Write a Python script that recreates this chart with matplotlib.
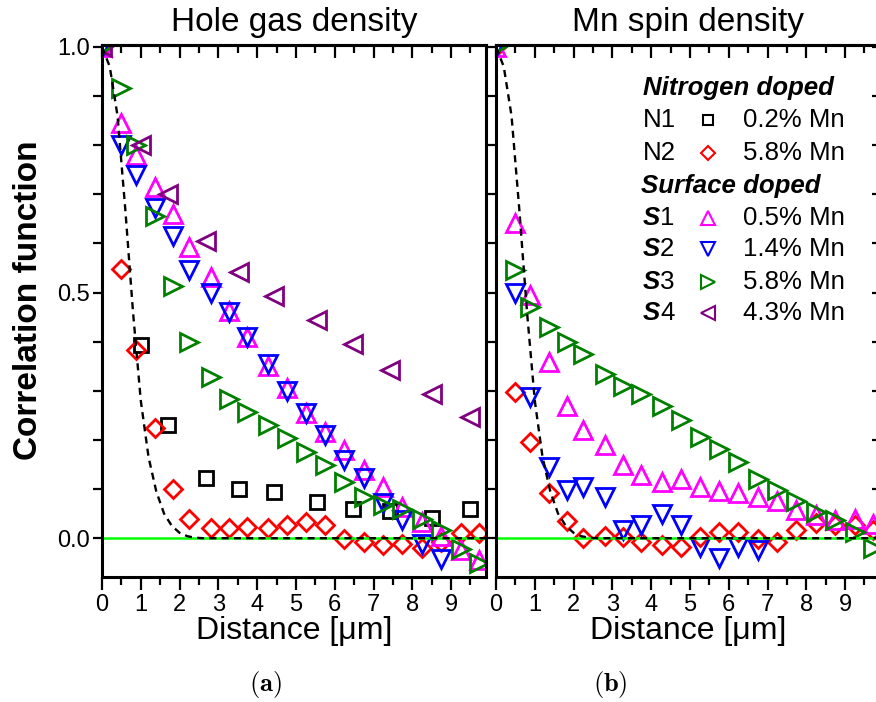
import matplotlib
matplotlib.use("Agg")
import matplotlib.pyplot as plt
from matplotlib.ticker import MultipleLocator, FormatStrFormatter

plt.rcParams['font.family'] = ['Liberation Sans', 'DejaVu Sans']

# distances [um] shared by the finely sampled series
dist_fine = [0.0, 0.5, 0.87, 1.36, 1.82, 2.25, 2.81, 3.27, 3.74, 4.27, 4.76,
             5.26, 5.74, 6.23, 6.76, 7.24, 7.74, 8.25, 8.75, 9.25, 9.73]
# distances for the coarsely sampled series (N1, S4)
dist_coarse = [0.0, 1.0, 1.7, 2.67, 3.54, 4.44, 5.55, 6.46, 7.42, 8.51, 9.5]

# (a) hole gas density
hole_N1 = [1.0, 0.394, 0.23, 0.123, 0.10, 0.094, 0.074, 0.06, 0.055, 0.042, 0.06]
hole_N2 = [1.0, 0.549, 0.384, 0.225, 0.101, 0.039, 0.02, 0.02, 0.023, 0.02, 0.026,
           0.033, 0.026, -0.001, -0.007, -0.014, -0.012, -0.02, -0.007, 0.01, 0.01]
hole_S1 = [1.0, 0.845, 0.78, 0.715, 0.66, 0.592, 0.531, 0.463, 0.41, 0.35, 0.305,
           0.254, 0.216, 0.179, 0.138, 0.105, 0.064, 0.032, 0.005, -0.025, -0.045]
hole_S2 = [1.0, 0.80, 0.74, 0.673, 0.616, 0.545, 0.50, 0.46, 0.41, 0.355, 0.30,
           0.254, 0.21, 0.159, 0.122, 0.072, 0.037, -0.012, -0.043]
hole_S3 = [1.0, 0.917, 0.80, 0.656, 0.514, 0.40, 0.328, 0.284, 0.257, 0.23, 0.203,
           0.175, 0.15, 0.115, 0.084, 0.068, 0.06, 0.04, 0.016, -0.021, -0.05]
hole_S4 = [1.0, 0.80, 0.70, 0.605, 0.541, 0.494, 0.444, 0.396, 0.343, 0.294, 0.247]

# (b) Mn spin density
spin_N2 = [1.0, 0.298, 0.196, 0.093, 0.036, 0.0, 0.004, 0.003, -0.007, -0.014, -0.018,
           0.003, 0.013, 0.013, -0.001, -0.007, 0.016, 0.03, 0.026, 0.026, 0.016]
spin_S1 = [1.0, 0.641, 0.496, 0.358, 0.27, 0.22, 0.189, 0.148, 0.128, 0.114, 0.12,
           0.104, 0.096, 0.092, 0.083, 0.076, 0.057, 0.048, 0.038, 0.04, 0.028]
spin_S2 = [1.0, 0.50, 0.287, 0.144, 0.099, 0.104, 0.084, 0.016, 0.026, 0.05, 0.026,
           -0.018, -0.04, -0.018, -0.025]
spin_S3 = [1.0, 0.546, 0.47, 0.43, 0.40, 0.375, 0.335, 0.309, 0.294, 0.27, 0.24,
           0.206, 0.182, 0.155, 0.121, 0.098, 0.076, 0.054, 0.037, 0.013, -0.02]

# resolution curve (dashed)
psf_x = [0.0, 0.2, 0.4, 0.6, 0.8, 1.0, 1.2, 1.4, 1.6, 1.8, 2.0, 2.2, 2.4, 2.6, 9.95]
psf_y = [1.0, 0.96, 0.86, 0.67, 0.46, 0.28, 0.165, 0.095, 0.05, 0.025, 0.011, 0.004,
         0.001, 0.0, 0.0]

legend_names = ['N1', 'N2', 'S1', 'S2', 'S3', 'S4']
legend_mn = ['0.2% Mn', '5.8% Mn', '0.5% Mn', '1.4% Mn', '5.8% Mn', '4.3% Mn']

styles = {
    'N1': dict(marker='s', color='black', ms=9.5),
    'N2': dict(marker='D', color='#ff0000', ms=9.5),
    'S1': dict(marker='^', color='#ff00ff', ms=13.5),
    'S2': dict(marker='v', color='#0000ff', ms=13.5),
    'S3': dict(marker='>', color='#008000', ms=13.5),
    'S4': dict(marker='<', color='#800080', ms=13.5),
}

W, H = 876, 702
fig = plt.figure(figsize=(W / 100, H / 100), dpi=100)
axL = fig.add_axes([102 / W, 1 - 577 / H, 384 / W, 532 / H])
axR = fig.add_axes([496 / W, 1 - 577 / H, 384 / W, 532 / H])


def pts(ax, x, y, key):
    st = styles[key]
    ax.plot(x[:len(y)], y, linestyle='none', marker=st['marker'], ms=st['ms'],
            mfc='none', mec=st['color'], mew=2.0)


pts(axL, dist_coarse, hole_N1, 'N1')
pts(axL, dist_fine, hole_N2, 'N2')
pts(axL, dist_fine, hole_S1, 'S1')
pts(axL, dist_fine, hole_S2, 'S2')
pts(axL, dist_fine, hole_S3, 'S3')
pts(axL, dist_coarse, hole_S4, 'S4')

pts(axR, dist_fine, spin_N2, 'N2')
pts(axR, dist_fine, spin_S1, 'S1')
pts(axR, dist_fine, spin_S2, 'S2')
pts(axR, dist_fine, spin_S3, 'S3')

for ax in (axL, axR):
    ax.axhline(0, color='#00ff00', lw=1.8)
    ax.plot(psf_x, psf_y, color='black', lw=1.7, dashes=(3, 2.2))
    ax.set_xlim(0, 9.9)
    ax.set_ylim(-0.079, 1.004)
    for s in ax.spines.values():
        s.set_linewidth(2.2)
    ax.xaxis.set_major_locator(MultipleLocator(1))
    ax.xaxis.set_minor_locator(MultipleLocator(0.5))
    ax.yaxis.set_major_locator(MultipleLocator(0.5))
    ax.yaxis.set_minor_locator(MultipleLocator(0.1))
    ax.yaxis.set_major_formatter(FormatStrFormatter('%.1f'))
    ax.tick_params(which='both', direction='out', width=1.6, labelsize=17,
                   top=False, right=False)
    ax.tick_params(axis='x', which='major', length=9.5, pad=3)
    ax.tick_params(axis='x', which='minor', length=5.5)
    ax.tick_params(axis='y', which='both', length=6.5, pad=2)
    top = ax.secondary_xaxis('top')
    top.xaxis.set_major_locator(MultipleLocator(1))
    top.xaxis.set_minor_locator(MultipleLocator(0.5))
    top.tick_params(which='both', direction='in', labeltop=False, width=1.6)
    top.tick_params(which='major', length=9.5)
    top.tick_params(which='minor', length=5.5)
    top.spines['top'].set_linewidth(2.2)
    ax.set_xlabel('Distance [μm]', fontsize=23, labelpad=0)

axR.tick_params(axis='y', labelleft=False)
rgt = axR.secondary_yaxis('right')
rgt.yaxis.set_major_locator(MultipleLocator(0.5))
rgt.yaxis.set_minor_locator(MultipleLocator(0.1))
rgt.tick_params(which='both', direction='in', labelright=False, width=1.6, length=5.5)

axL.set_title('Hole gas density', fontsize=24, pad=10)
axR.set_title('Mn spin density', fontsize=24, pad=10)
axL.set_ylabel('Correlation function', fontsize=24, fontweight='bold')
axL.yaxis.set_label_coords(-0.152, 0.52)

# hand-made legend inside panel (b)
def ax_xy(px, py):
    return (px - 496) / 384, (577 - py) / 532

rows_y = {'hdrN': 88, 'N1': 120, 'N2': 153, 'hdrS': 186,
          'S1': 218, 'S2': 249, 'S3': 282, 'S4': 313}
tx = dict(transform=axR.transAxes, fontsize=18.6, va='center', clip_on=False)
axR.text(*ax_xy(643, rows_y['hdrN']), 'Nitrogen doped', fontweight='bold',
         fontstyle='italic', **tx)
axR.text(*ax_xy(641, rows_y['hdrS']), 'Surface doped', fontweight='bold',
         fontstyle='italic', **tx)
leg_ms = {'N1': 7.5, 'N2': 7, 'S1': 10, 'S2': 10, 'S3': 10, 'S4': 10}
for name, mn in zip(legend_names, legend_mn):
    ry = rows_y[name]
    if name.startswith('S'):
        axR.text(*ax_xy(643, ry), 'S', fontweight='bold', fontstyle='italic', **tx)
        axR.text(*ax_xy(660, ry), name[1:], **tx)
    else:
        axR.text(*ax_xy(643, ry), name, **tx)
    st = styles[name]
    axR.plot(*ax_xy(708, ry), transform=axR.transAxes, marker=st['marker'],
             ms=leg_ms[name], mfc='none', mec=st['color'], mew=1.5,
             linestyle='none', clip_on=False)
    axR.text(*ax_xy(743, ry), mn, **tx)

fig.text(265 / W, 1 - 685 / H, r'$\mathbf{(a)}$', fontsize=19, ha='center',
         va='center', math_fontfamily='cm')
fig.text(610 / W, 1 - 685 / H, r'$\mathbf{(b)}$', fontsize=19, ha='center',
         va='center', math_fontfamily='cm')

fig.savefig('out.png', dpi=100)
